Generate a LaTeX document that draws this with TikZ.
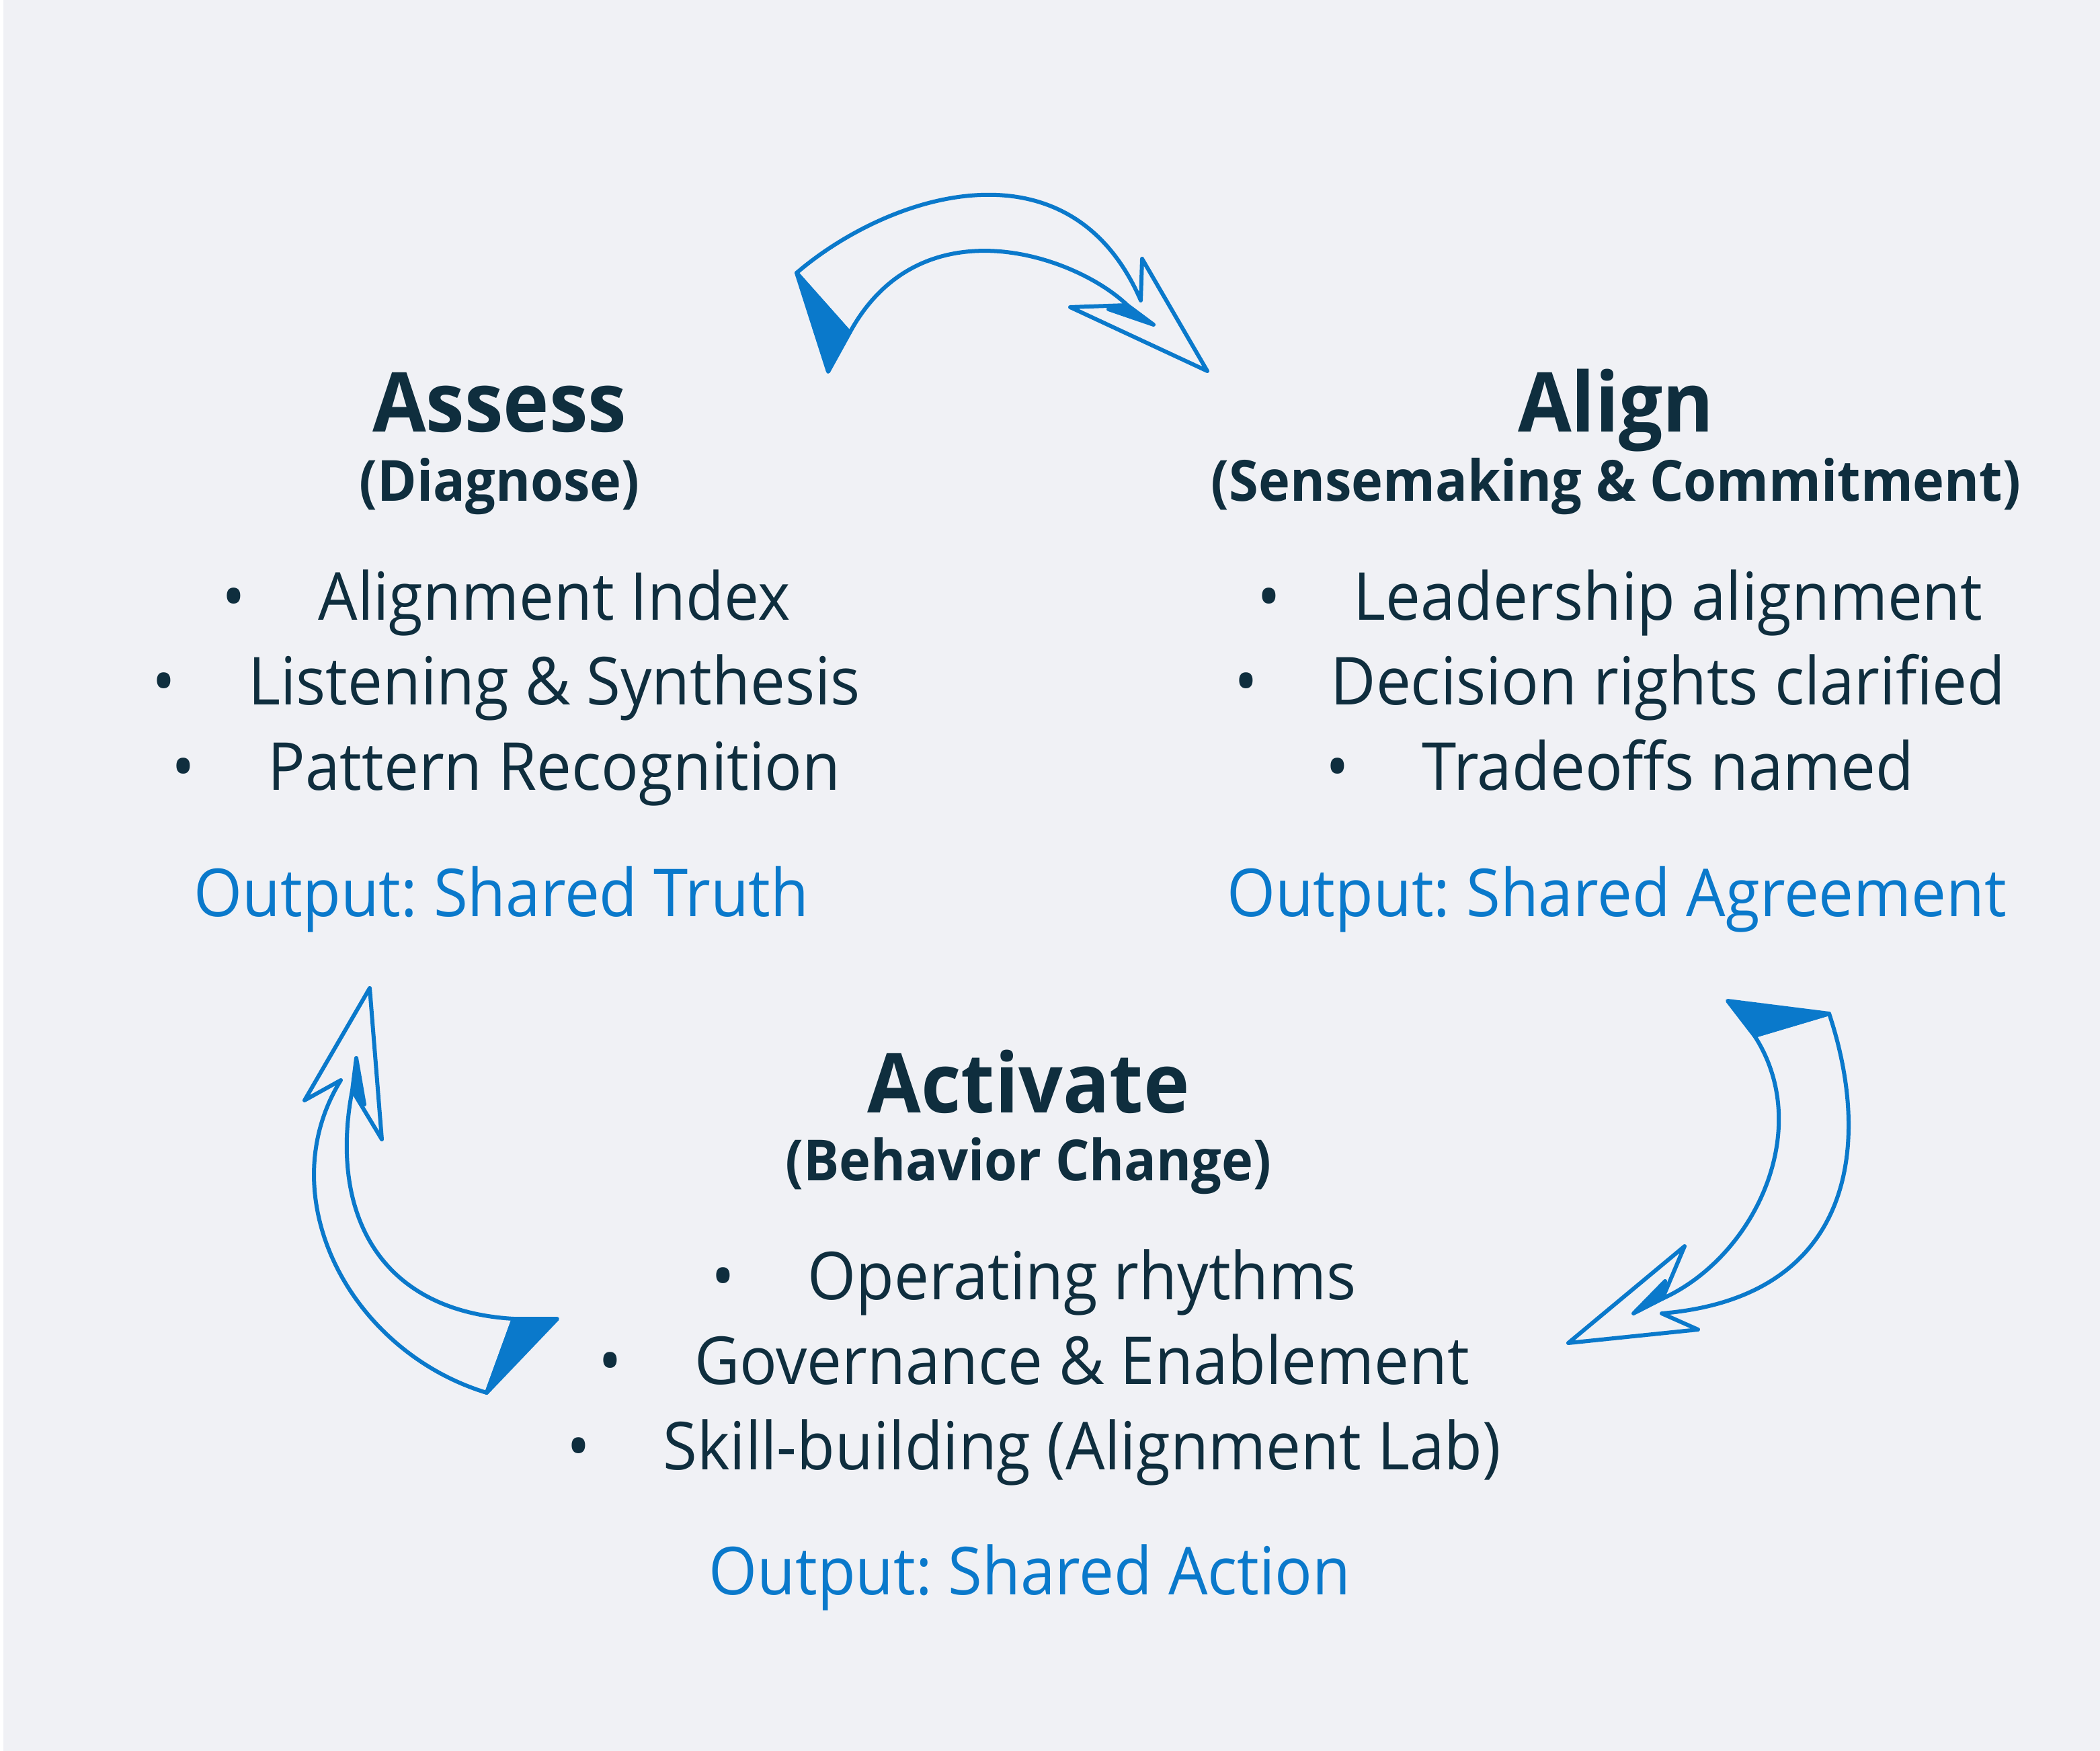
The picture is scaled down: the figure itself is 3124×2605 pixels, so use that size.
\documentclass[tikz,border=0pt]{standalone}
\usepackage{fontspec}
\setmainfont{Open Sans}[FakeStretch=0.94]
\usetikzlibrary{positioning}
\frenchspacing

\definecolor{ink}{HTML}{0F2E3E}
\definecolor{accent}{HTML}{0A79CB}
\definecolor{paper}{HTML}{F0F1F5}

% bullet in front of each list line
\newcommand{\bul}{\textbullet\hspace{1.1em}}

\begin{document}
\begin{tikzpicture}[x=0.1mm, y=-0.1mm,
    title/.style = {anchor=base, inner sep=0pt, text=ink,
        font=\fontsize{35}{42}\selectfont\bfseries},
    sub/.style = {anchor=base, inner sep=0pt, text=ink,
        font=\fontsize{24}{29}\selectfont\bfseries},
    item/.style = {anchor=base, inner sep=0pt, text=ink,
        font=\fontsize{28}{34}\selectfont},
    result/.style = {item, text=accent},
    ribbon/.style = {draw=accent, line width=0.6mm, line join=round},
    flap/.style = {ribbon, fill=accent}
]

  \useasboundingbox (0,0) rectangle (3124,2605);
  \fill[paper] (0,0) rectangle (3124,2605);
  \fill[white] (0,0) rectangle (5,2605);

  % Assess
  \node[title]  (assess)    at (743,643)  {Assess};
  \node[sub]    (assesssub) at (743,745)  {(Diagnose)};
  \node[item]   (as1)       at (753,922)  {\bul Alignment Index};
  \node[item]   (as2)       at (753,1048) {\bul Listening \& Synthesis};
  \node[item]   (as3)       at (753,1175) {\bul Pattern Recognition};
  \node[result] (asout)     at (746,1363) {Output: Shared Truth};

  % Align
  \node[title]  (align)     at (2404,643)  {Align};
  \node[sub]    (alignsub)  at (2404,745)  {(Sensemaking \& Commitment)};
  \node[item]   (al1)       at (2410,922)  {\bul Leadership alignment};
  \node[item]   (al2)       at (2410,1048) {\bul Decision rights clarified};
  \node[item]   (al3)       at (2410,1175) {\bul Tradeoffs named};
  \node[result] (alout)     at (2405,1363) {Output: Shared Agreement};

  % Activate
  \node[title]  (activate)  at (1530,1655) {Activate};
  \node[sub]    (actsub)    at (1530,1756) {(Behavior Change)};
  \node[item]   (ac1)       at (1538,1933) {\bul Operating rhythms};
  \node[item]   (ac2)       at (1538,2059) {\bul Governance \& Enablement};
  \node[item]   (ac3)       at (1538,2186) {\bul Skill-building (Alignment Lab)};
  \node[result] (acout)     at (1532,2372) {Output: Shared Action};

  % assess -> align
  \draw[ribbon] (1185,406) .. controls (1320,290) and (1590,200) .. (1697,447)
    -- (1699,385) -- (1796,552) -- (1592,457) -- (1677,454)
    .. controls (1600,380) and (1370,300) .. (1264,495) -- cycle;
  \draw[flap] (1185,406) -- (1232,553) -- (1264,495) -- cycle;
  \draw[flap] (1677,454) -- (1716,483) -- (1649,460) -- cycle;

  % align -> activate
  \draw[ribbon] (2721,1508) .. controls (2785,1700) and (2760,1930) .. (2472,1954)
    -- (2526,1978) -- (2333,1998) -- (2506,1854) -- (2473,1932)
    .. controls (2610,1870) and (2700,1680) .. (2610,1541) -- cycle;
  \draw[flap] (2721,1508) -- (2570,1489) -- (2610,1541) -- cycle;
  \draw[flap] (2430,1954) -- (2473,1932) -- (2477,1906) -- cycle;

  % activate -> assess
  \draw[ribbon] (724,2072) .. controls (520,2010) and (400,1780) .. (507,1607)
    -- (453,1637) -- (550,1470) -- (568,1695) -- (524,1622)
    .. controls (490,1800) and (560,1950) .. (764,1962) -- cycle;
  \draw[flap] (724,2072) -- (829,1962) -- (764,1962) -- cycle;
  \draw[flap] (530,1574) -- (524,1622) -- (542,1643) -- cycle;

\end{tikzpicture}
\end{document}
